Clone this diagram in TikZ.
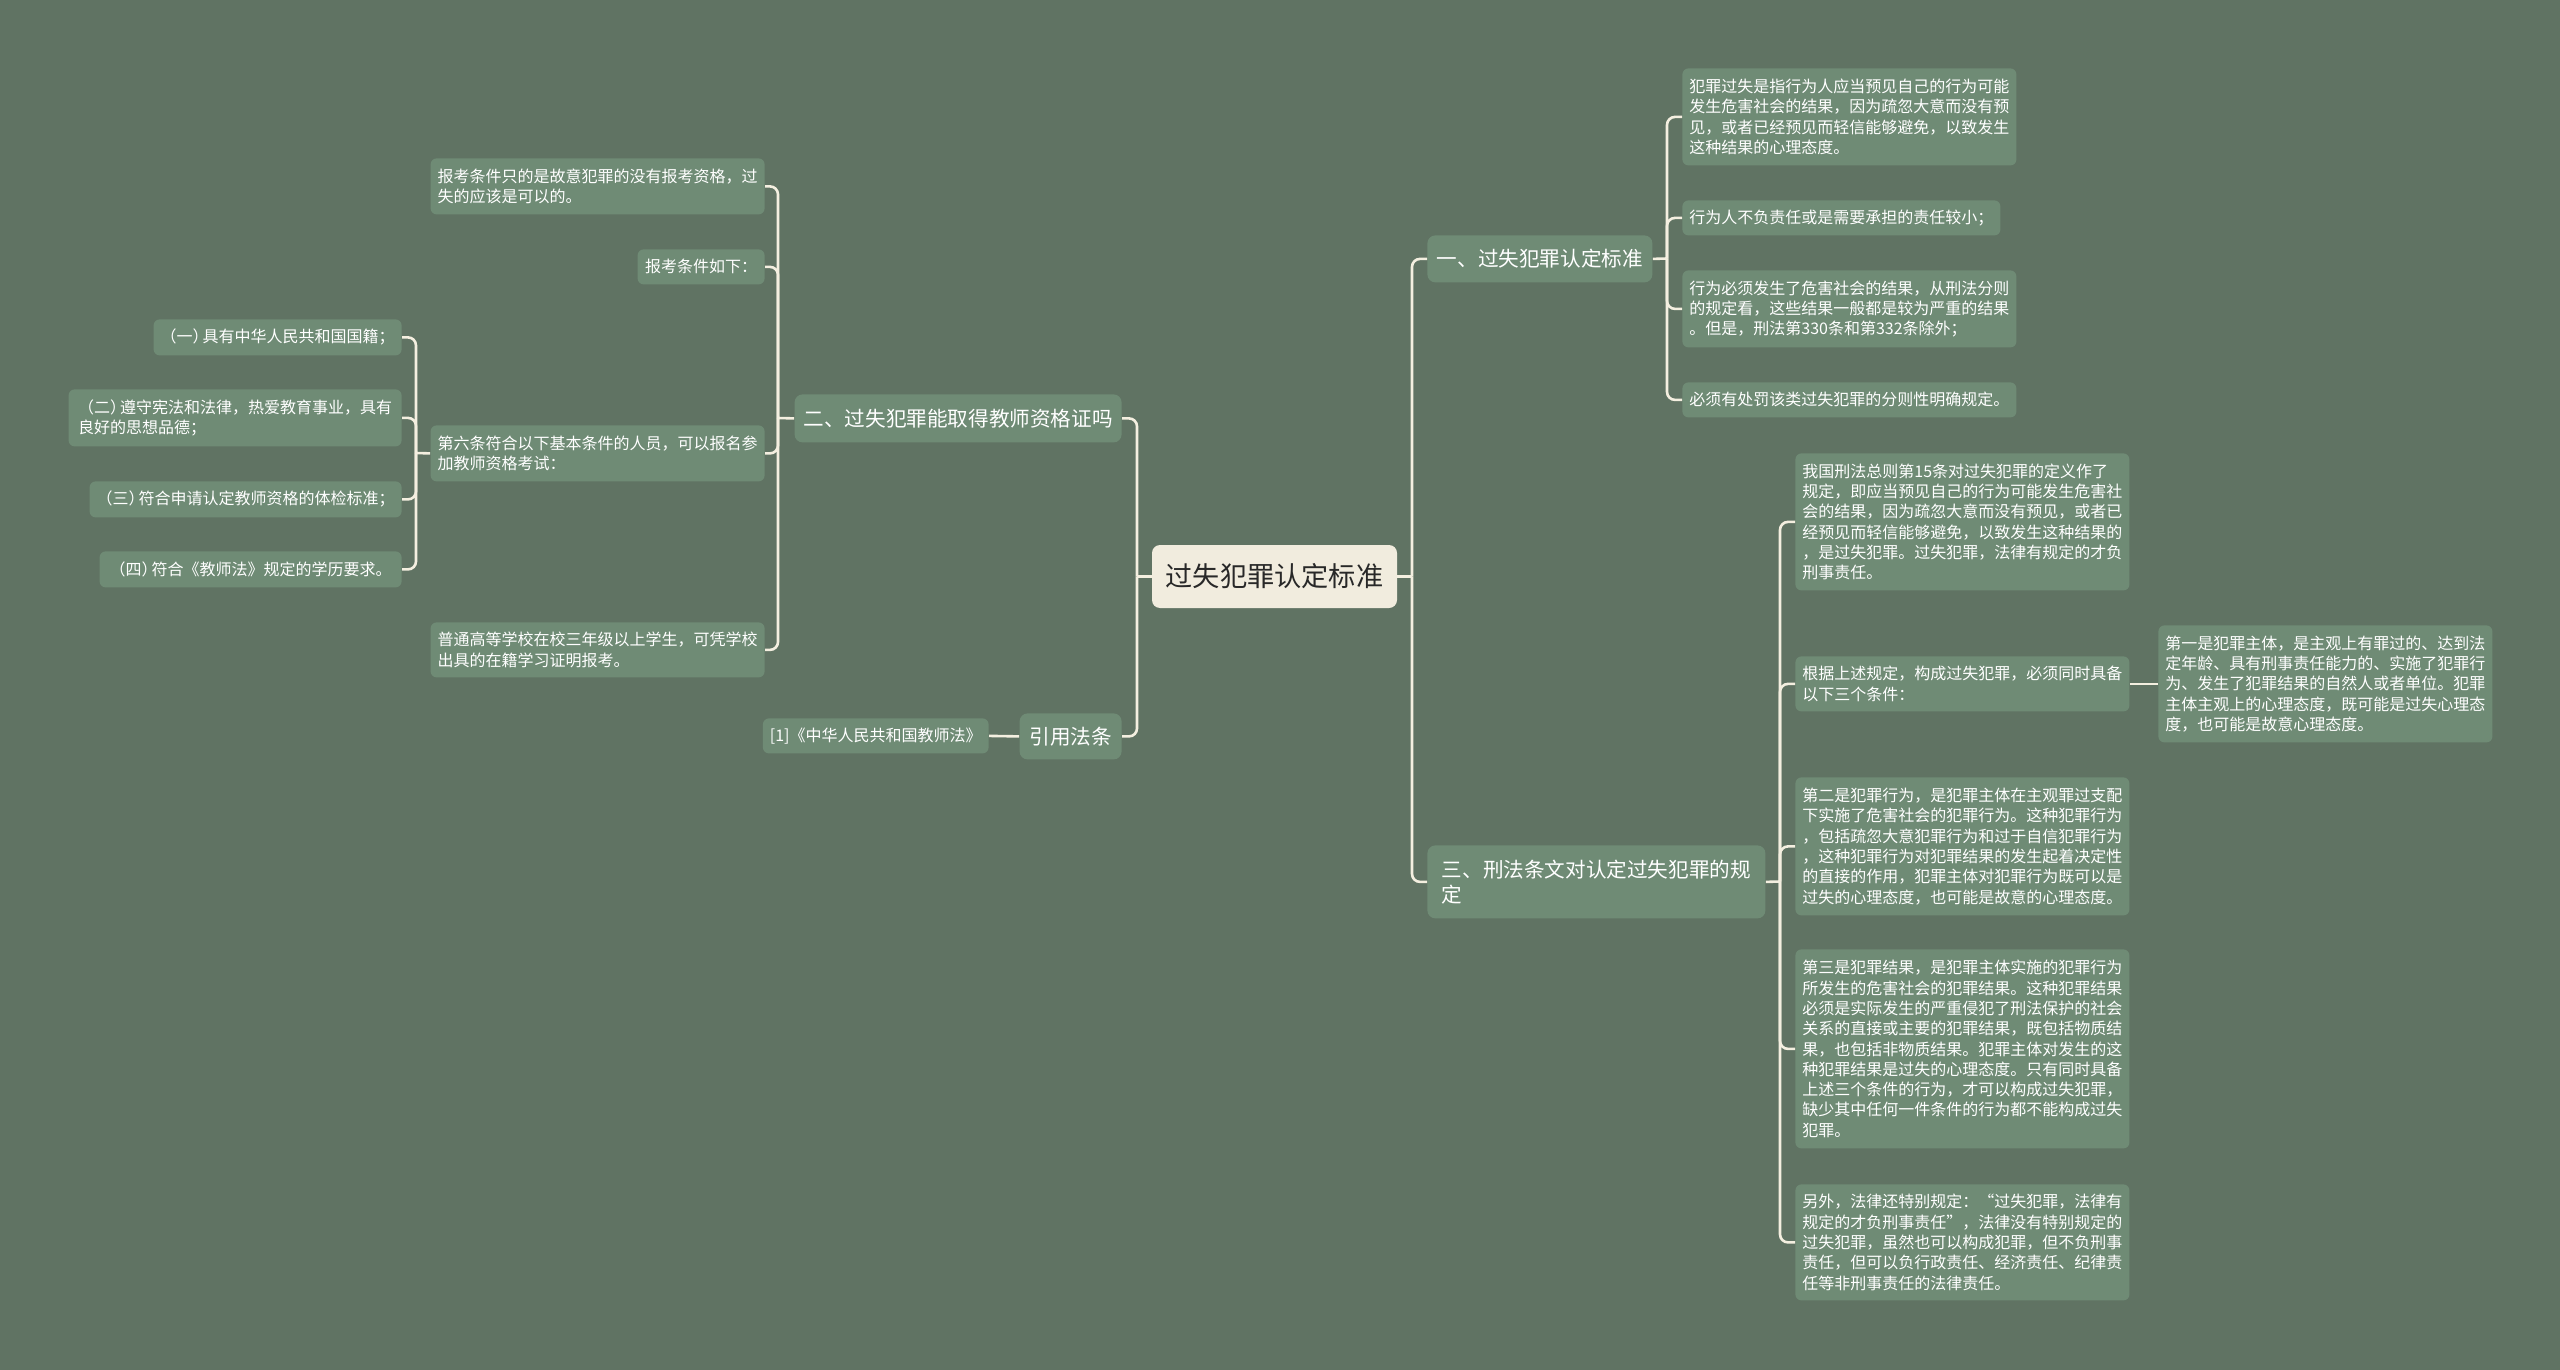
\documentclass[tikz,border=0pt]{standalone}
\usepackage{fontspec}
\newfontfamily\cjk{Noto Sans CJK SC}
\definecolor{bgcol}{RGB}{96,115,99}
\definecolor{nodefill}{RGB}{111,139,117}
\definecolor{rootfill}{RGB}{241,236,222}
\definecolor{roottext}{RGB}{40,40,40}
\definecolor{linecol}{RGB}{244,239,224}
\tikzset{
  leaf/.style={fill=nodefill, rounded corners=3pt, text=white, font=\cjk\fontsize{8}{10.15}\selectfont, inner xsep=3.5pt, inner ysep=0pt, align=left},
  lone/.style={fill=nodefill, rounded corners=4pt, text=white, font=\cjk\fontsize{10.3}{12.5}\selectfont, inner xsep=4pt, inner ysep=0pt, align=left},
  rootn/.style={fill=rootfill, rounded corners=4pt, text=roottext, font=\cjk\fontsize{13.6}{16}\selectfont, inner sep=0pt},
  link/.style={draw=linecol, line width=1.3pt, rounded corners=4pt},
}
\begin{document}
\begin{tikzpicture}[x=0.5pt,y=-0.5pt]
\useasboundingbox[fill=bgcol] (0,0) rectangle (2560,1370);

% root
\node[rootn, minimum width=122.5pt, minimum height=31.5pt] (root) at (1274.5,576.5) {过失犯罪认定标准};

% level 1
\node[lone, anchor=north west, minimum width=112.5pt, minimum height=23.5pt] (n1) at (1427,235) {一、过失犯罪认定标准};
\node[lone, anchor=north west, minimum width=169pt, minimum height=36.5pt] (n3) at (1427,845) {三、刑法条文对认定过失犯罪的规\\定};
\node[lone, anchor=north east, minimum width=163.5pt, minimum height=24pt] (n2) at (1122,394) {二、过失犯罪能取得教师资格证吗};
\node[lone, anchor=north east, minimum width=51pt, minimum height=23pt, align=center] (cite) at (1122,713) {引用法条};

% right, under n1
\node[leaf, anchor=north west, minimum width=166pt, minimum height=48.5pt] (a1) at (1682,68) {犯罪过失是指行为人应当预见自己的行为可能\\发生危害社会的结果，因为疏忽大意而没有预\\见，或者已经预见而轻信能够避免，以致发生\\这种结果的心理态度。};
\node[leaf, anchor=north west, minimum width=158pt, minimum height=17.5pt] (a2) at (1682,200) {行为人不负责任或是需要承担的责任较小；};
\node[leaf, anchor=north west, minimum width=166pt, minimum height=38.5pt] (a3) at (1682,270) {行为必须发生了危害社会的结果，从刑法分则\\的规定看，这些结果一般都是较为严重的结果\\。但是，刑法第330条和第332条除外；};
\node[leaf, anchor=north west, minimum width=166pt, minimum height=17.5pt] (a4) at (1682,382) {必须有处罚该类过失犯罪的分则性明确规定。};

% right, under n3
\node[leaf, anchor=north west, minimum width=166pt, minimum height=68.5pt] (b1) at (1795,453) {我国刑法总则第15条对过失犯罪的定义作了\\规定，即应当预见自己的行为可能发生危害社\\会的结果，因为疏忽大意而没有预见，或者已\\经预见而轻信能够避免，以致发生这种结果的\\，是过失犯罪。过失犯罪，法律有规定的才负\\刑事责任。};
\node[leaf, anchor=north west, minimum width=166pt, minimum height=27.5pt] (b2) at (1795,656) {根据上述规定，构成过失犯罪，必须同时具备\\以下三个条件：};
\node[leaf, anchor=north west, minimum width=167pt, minimum height=58.5pt] (b2c) at (2158,625) {第一是犯罪主体，是主观上有罪过的、达到法\\定年龄、具有刑事责任能力的、实施了犯罪行\\为、发生了犯罪结果的自然人或者单位。犯罪\\主体主观上的心理态度，既可能是过失心理态\\度，也可能是故意心理态度。};
\node[leaf, anchor=north west, minimum width=166pt, minimum height=69pt] (b3) at (1795,777) {第二是犯罪行为，是犯罪主体在主观罪过支配\\下实施了危害社会的犯罪行为。这种犯罪行为\\，包括疏忽大意犯罪行为和过于自信犯罪行为\\，这种犯罪行为对犯罪结果的发生起着决定性\\的直接的作用，犯罪主体对犯罪行为既可以是\\过失的心理态度，也可能是故意的心理态度。};
\node[leaf, anchor=north west, minimum width=166pt, minimum height=99.5pt] (b4) at (1795,949) {第三是犯罪结果，是犯罪主体实施的犯罪行为\\所发生的危害社会的犯罪结果。这种犯罪结果\\必须是实际发生的严重侵犯了刑法保护的社会\\关系的直接或主要的犯罪结果，既包括物质结\\果，也包括非物质结果。犯罪主体对发生的这\\种犯罪结果是过失的心理态度。只有同时具备\\上述三个条件的行为，才可以构成过失犯罪，\\缺少其中任何一件条件的行为都不能构成过失\\犯罪。};
\node[leaf, anchor=north west, minimum width=166pt, minimum height=58pt] (b5) at (1795,1184) {另外，法律还特别规定：“过失犯罪，法律有\\规定的才负刑事责任”，法律没有特别规定的\\过失犯罪，虽然也可以构成犯罪，但不负刑事\\责任，但可以负行政责任、经济责任、纪律责\\任等非刑事责任的法律责任。};

% left, under n2
\node[leaf, anchor=north east, minimum width=166.5pt, minimum height=28pt] (c1) at (765,158) {报考条件只的是故意犯罪的没有报考资格，过\\失的应该是可以的。};
\node[leaf, anchor=north east, minimum width=63.5pt, minimum height=17.5pt] (c2) at (765,249) {报考条件如下：};
\node[leaf, anchor=north east, minimum width=166.5pt, minimum height=28pt] (c3) at (765,425) {第六条符合以下基本条件的人员，可以报名参\\加教师资格考试：};
\node[leaf, anchor=north east, minimum width=166.5pt, minimum height=27.5pt] (c4) at (765,622) {普通高等学校在校三年级以上学生，可凭学校\\出具的在籍学习证明报考。};

% under c3
\node[leaf, anchor=north east, minimum width=121.5pt, minimum height=18pt] (d1) at (402,319) {（一）\kern-3pt 具有中华人民共和国国籍；};
\node[leaf, anchor=north east, minimum width=166.5pt, minimum height=28.5pt] (d2) at (402,389) {（二）\kern-3pt 遵守宪法和法律，热爱教育事业，具有\\良好的思想品德；};
\node[leaf, anchor=north east, minimum width=153pt, minimum height=18pt] (d3) at (402,481) {（三）\kern-3pt 符合申请认定教师资格的体检标准；};
\node[leaf, anchor=north east, minimum width=151pt, minimum height=18pt] (d4) at (402,551) {（四）\kern-3pt 符合《教师法》规定的学历要求。};

% under cite
\node[leaf, anchor=north east, minimum width=112.5pt, minimum height=17.5pt] (citec) at (989,718) {[1]《中华人民共和国教师法》};

% junctions
\coordinate (jr) at (1412,576.5);
\coordinate (jl) at (1137,576.5);
\coordinate (j1) at (1667,258.5);
\coordinate (j3) at (1780,881.5);
\coordinate (j2) at (778,418);
\coordinate (jq) at (416,453);

% connectors
\draw[link] (root.east) -- (jr);
\draw[link] (jr) |- (n1.west);
\draw[link] (jr) |- (n3.west);
\draw[link] (root.west) -- (jl);
\draw[link] (jl) |- (n2.east);
\draw[link] (jl) |- (cite.east);

\draw[link] (n1.east) -- (j1);
\foreach \c in {a1,a2,a3,a4} \draw[link] (j1) |- (\c.west);

\draw[link] (n3.east) -- (j3);
\foreach \c in {b1,b2,b3,b4,b5} \draw[link] (j3) |- (\c.west);
\draw[link] (b2.east) -- (b2c.west |- b2.east);

\draw[link] (n2.west) -- (j2);
\foreach \c in {c1,c2,c3,c4} \draw[link] (j2) |- (\c.east);

\draw[link] (c3.west) -- (jq);
\foreach \c in {d1,d2,d3,d4} \draw[link] (jq) |- (\c.east);

\draw[link] (cite.west) -- (citec.east);
\end{tikzpicture}
\end{document}
